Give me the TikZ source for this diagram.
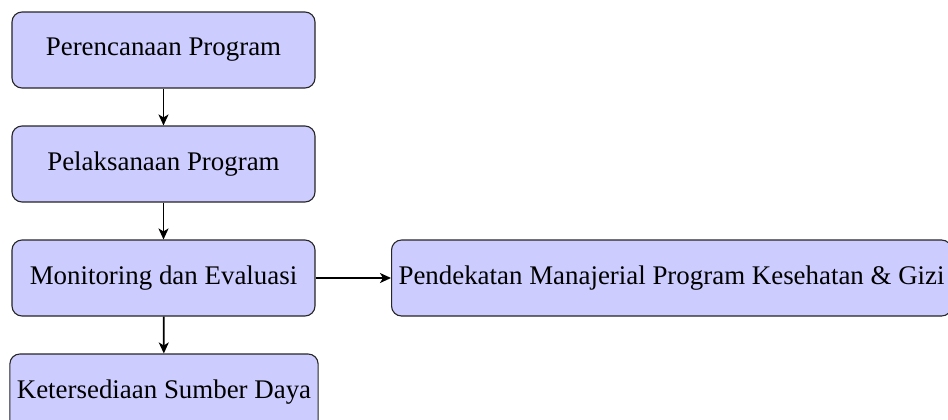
\documentclass[tikz,border=0pt]{standalone}
\usepackage{fontspec}
\setmainfont{Liberation Serif}
\usetikzlibrary{arrows.meta}
\begin{document}
\begin{tikzpicture}[x=1bp,y=-1bp,
  box/.style={draw=black!85, fill=blue!20, rounded corners=10bp, line width=1.1bp,
    minimum width=303bp, minimum height=76bp, inner xsep=7bp,
    font=\fontsize{27}{32}\selectfont},
  conn/.style={-{Stealth[length=11bp,width=10bp,inset=3bp]}, line width=1.8bp}]
\useasboundingbox (0,0) rectangle (948,419);
\clip (0,0) rectangle (948,419);
\node[box] (p1) at (163.5,50) {Perencanaan Program};
\node[box] (p2) at (163.5,164) {Pelaksanaan Program};
\node[box] (p3) at (163.5,278) {Monitoring dan Evaluasi};
\node[box] (p4) at (164,392) {Ketersediaan Sumber Daya};
\node[box, anchor=west] (p5) at (391,278) {Pendekatan Manajerial Program Kesehatan \& Gizi};
\draw[conn] (p1) -- (p2);
\draw[conn] (p2) -- (p3);
\draw[conn] (p3) -- (p4);
\draw[conn] (p3) -- (p5);
\end{tikzpicture}
\end{document}
